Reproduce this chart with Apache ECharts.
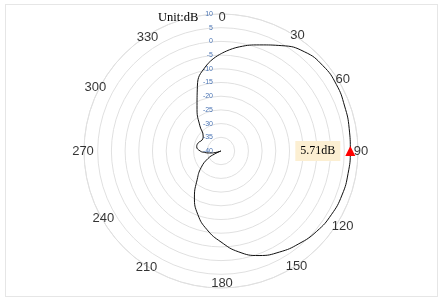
<!DOCTYPE html>
<html>
<head>
<meta charset="utf-8">
<script src="https://cdn.jsdelivr.net/npm/echarts@6/dist/echarts.min.js"></script>
<style>
html,body{margin:0;padding:0;background:#fff;}
#frame{position:absolute;left:5px;top:4px;width:431px;height:291px;border:1px solid #e6e6e6;}
#chart{position:absolute;left:0;top:0;width:441px;height:300px;}
</style>
</head>
<body>
<div id="frame"></div>
<div id="chart"></div>
<script>
// Pattern angles (degrees, clockwise from top) and gain values (dB)
const angles = [0,10,20,30,40,50,60,70,80,90,100,110,120,130,140,150,160,170,180,190,200,210,220,230,240,245,250,255,260,265,270,280,290,300,310,320,330,340,350,360];
const gains  = [-4.5,-1.4,1.2,4.4,7.3,8.5,8.6,8.0,7.5,7.2,7.1,7.0,6.5,5.6,4.2,2.6,0.6,-2.6,-6.8,-10.8,-15.3,-20.6,-26.5,-30.5,-34.5,-37.5,-40,-37.8,-35.8,-34,-32.4,-31,-31.2,-32,-31.5,-28,-22.5,-14.8,-8.5,-4.5];
// Angle tick labels
const angleTicks = [0,30,60,90,120,150,180,210,240,270,300,330];
// Radius scale
const rMin = -40, rMax = 10, rStep = 5;
// Marker
const markAngle = 90;
const markText = '5.71dB';
const unitText = 'Unit:dB';

// small per-label nudges (pixels) of the angle labels
const labelNudge = {0:[1,3],30:[8,3],60:[3,-3],90:[3,0],120:[3,7],150:[7,-3],180:[1,-5],210:[-6,-2],240:[1,-1],270:[-1,0],300:[-7,5],330:[-5,5]};

const chart = echarts.init(document.getElementById('chart'), null, {renderer:'canvas'});
const lineData = angles.map((a,i)=>[gains[i], a]);
const markIdx = angles.indexOf(markAngle);

chart.setOption({
  animation:false,
  title:{
    text: unitText, left:153, top:6,
    textStyle:{fontFamily:'Liberation Serif', fontSize:12.5, fontWeight:'normal', color:'#000'}
  },
  polar:{center:[221,151], radius:137},
  angleAxis:{
    type:'value', min:0, max:360, interval:30, startAngle:90, clockwise:true,
    axisLine:{show:true, lineStyle:{color:'#e0e0e0', width:1}},
    axisTick:{show:false}, axisLabel:{show:false}, splitLine:{show:false}
  },
  radiusAxis:{
    type:'value', min:rMin, max:rMax, interval:rStep,
    axisLine:{show:false}, axisTick:{show:false},
    axisLabel:{fontSize:7, color:'#4a74b4', margin:8, fontFamily:'Liberation Sans'},
    splitLine:{show:true, lineStyle:{color:'#e0e0e0', width:1}}
  },
  series:[
    {
      type:'line', coordinateSystem:'polar', data:lineData, smooth:true,
      showSymbol:false, symbol:'none',
      lineStyle:{color:'#111', width:1},
      markPoint:{
        symbol:'triangle', symbolSize:10,
        itemStyle:{color:'#ff0000'},
        label:{
          show:true, position:'left', distance:5, formatter:markText,
          backgroundColor:'#fcefd2', padding:[4,5], color:'#000',
          fontFamily:'Liberation Serif', fontSize:12
        },
        data:[{coord:[gains[markIdx], markAngle]}]
      }
    },
    {
      type:'scatter', coordinateSystem:'polar', silent:true,
      data: angleTicks.map(a=>({value:[rMax, a], label:{offset:labelNudge[a]}})),
      symbolSize:0,
      label:{show:true, position:'inside', formatter:p=>String(p.value[1]),
        fontSize:13, color:'#000', fontFamily:'Liberation Sans'}
    }
  ]
});
</script>
</body>
</html>
